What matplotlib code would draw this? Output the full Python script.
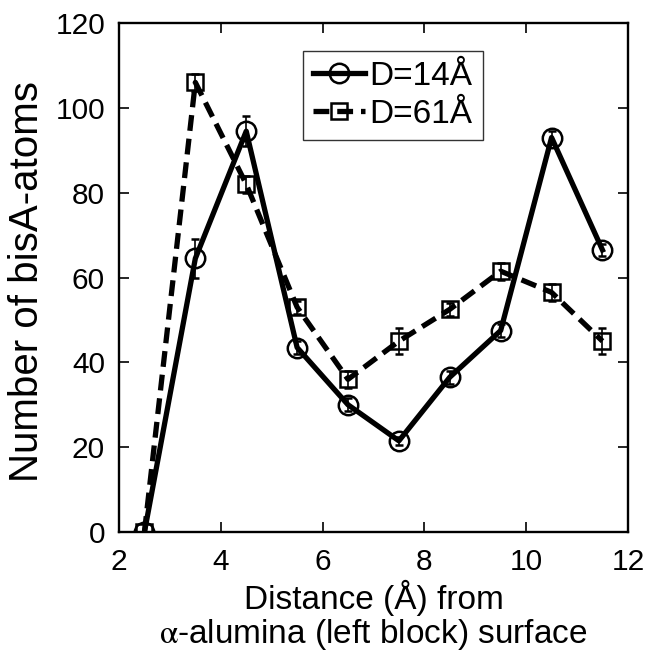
import numpy as np
import matplotlib
matplotlib.use("Agg")
import matplotlib.pyplot as plt

plt.rcParams['font.family'] = ['Liberation Sans', 'DejaVu Sans']
plt.rcParams['mathtext.fontset'] = 'stix'

distance = [2.5, 3.5, 4.5, 5.5, 6.5, 7.5, 8.5, 9.5, 10.5, 11.5]
atoms_d14 = [0, 64.5, 94.5, 43.5, 30, 21.5, 36.5, 47.5, 93, 66.5]
err_d14 = [0, 4.5, 3.5, 1.5, 1.5, 1.0, 1.5, 1.5, 1.5, 1.5]
atoms_d61 = [0, 106, 82, 53, 36, 45, 52.5, 61.5, 56.5, 45]
err_d61 = [0, 2.0, 2.0, 1.5, 2.0, 3.0, 1.5, 2.0, 2.0, 3.0]

fig = plt.figure(figsize=(6.45, 6.54), dpi=100)
ax = fig.add_axes([0.1845, 0.1865, 0.789, 0.7783])

ax.errorbar(distance, atoms_d14, yerr=err_d14, color='black', lw=3.8,
            marker='o', ms=14, mfc='none', mec='black', mew=1.8,
            elinewidth=1.2, capsize=3, capthick=1.2, label='D=14Å')
ax.errorbar(distance, atoms_d61, yerr=err_d61, color='black', lw=3.8,
            ls=(0, (3.0, 1.5)), marker='s', ms=11.5, mfc='none', mec='black',
            mew=1.8, elinewidth=1.2, capsize=3, capthick=1.2, label='D=61Å')

ax.set_xlim(2, 12)
ax.set_ylim(0, 120)
ax.set_xticks([2, 4, 6, 8, 10, 12])
ax.set_yticks([0, 20, 40, 60, 80, 100, 120])
ax.tick_params(direction='in', length=7, width=1.2, labelsize=21.5,
               top=True, right=True)
ax.tick_params(axis='x', pad=11.5)
ax.tick_params(axis='y', pad=10)
for s in ax.spines.values():
    s.set_linewidth(1.7)

ax.set_xlabel('Distance (Å) from\n$\\mathrm{\\alpha}$-alumina (left block) surface',
              fontsize=24, linespacing=1.05)
ax.xaxis.set_label_coords(0.5, -0.094)
ax.set_ylabel('Number of bisA-atoms', fontsize=29)
ax.yaxis.set_label_coords(-0.143, 0.493)

handles, labels = ax.get_legend_handles_labels()
leg = ax.legend([h[0] for h in handles], labels, loc='upper left',
                bbox_to_anchor=(0.3615, 0.945), fontsize=24, frameon=True,
                fancybox=False, handlelength=1.55, handletextpad=0.15,
                borderpad=0.3, labelspacing=0.2, borderaxespad=0)
leg.get_frame().set_edgecolor('black')
leg.get_frame().set_linewidth(1.0)

fig.savefig('out.png', dpi=100)
